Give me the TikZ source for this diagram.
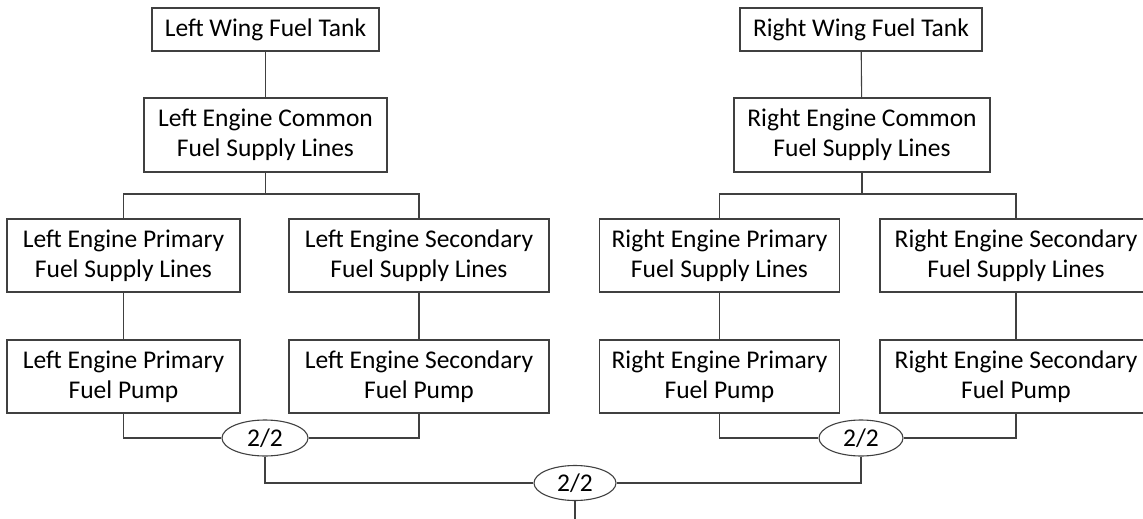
\documentclass[tikz,border=0pt]{standalone}
\usepackage{fontspec}
\setmainfont{Carlito}
\usetikzlibrary{shapes.geometric}
\begin{document}
\begin{tikzpicture}[x=1pt,y=-1pt,
  every node/.style={font=\fontsize{25.5}{30}\selectfont, text=black},
  box/.style={draw=black!75, line width=1.1pt, rectangle, inner sep=0pt, align=center},
  gate/.style={draw=black!75, line width=1.1pt, ellipse, inner sep=0pt},
  link/.style={draw=black!75, line width=1.1pt}]
\useasboundingbox (0,0) rectangle (1143,519);
% left side
\node[box, minimum width=227pt, minimum height=43pt] (LT) at (265.5,29.5) {Left Wing Fuel Tank};
\node[box, minimum width=243pt, minimum height=74pt] (LC) at (265.5,135) {Left Engine Common\\Fuel Supply Lines};
\node[box, minimum width=233pt, minimum height=73pt] (LPS) at (123.5,255.5) {Left Engine Primary\\Fuel Supply Lines};
\node[box, minimum width=260pt, minimum height=73pt] (LSS) at (419,255.5) {Left Engine Secondary\\Fuel Supply Lines};
\node[box, minimum width=233pt, minimum height=73pt] (LPP) at (123.5,376.5) {Left Engine Primary\\Fuel Pump};
\node[box, minimum width=260pt, minimum height=73pt] (LSP) at (419,376.5) {Left Engine Secondary\\Fuel Pump};
% right side
\node[box, minimum width=242pt, minimum height=43pt] (RT) at (861,29.5) {Right Wing Fuel Tank};
\node[box, minimum width=256pt, minimum height=74pt] (RC) at (862,135) {Right Engine Common\\Fuel Supply Lines};
\node[box, minimum width=240pt, minimum height=73pt] (RPS) at (719.5,255.5) {Right Engine Primary\\Fuel Supply Lines};
\node[box, minimum width=272pt, minimum height=73pt] (RSS) at (1016,255.5) {Right Engine Secondary\\Fuel Supply Lines};
\node[box, minimum width=240pt, minimum height=73pt] (RPP) at (719.5,376.5) {Right Engine Primary\\Fuel Pump};
\node[box, minimum width=272pt, minimum height=73pt] (RSP) at (1016,376.5) {Right Engine Secondary\\Fuel Pump};
% gates
\node[gate, minimum width=86pt, minimum height=36pt] (E1) at (265,438) {2/2};
\node[gate, minimum width=84pt, minimum height=36pt] (E2) at (861,438) {2/2};
\node[gate, minimum width=82pt, minimum height=35pt] (E3) at (575,483) {2/2};
\coordinate (LB) at (265.5,194);
\coordinate (RB) at (862,194);
\coordinate (OUT) at (575,519);
% connectors
\draw[link] (LT) -- (LC);
\draw[link] (LC.south) -- (LB);
\draw[link] (LPS.north) |- (LB) -| (LSS.north);
\draw[link] (LPS) -- (LPP);
\draw[link] (LSS) -- (LSP);
\draw[link] (RT) -- (RC);
\draw[link] (RC.south) -- (RB);
\draw[link] (RPS.north) |- (RB) -| (RSS.north);
\draw[link] (RPS) -- (RPP);
\draw[link] (RSS) -- (RSP);
\draw[link] (LPP.south) |- (E1.west);
\draw[link] (LSP.south) |- (E1.east);
\draw[link] (RPP.south) |- (E2.west);
\draw[link] (RSP.south) |- (E2.east);
\draw[link] (E1.south) |- (E3.west);
\draw[link] (E2.south) |- (E3.east);
\draw[link] (E3.south) -- (OUT);
\end{tikzpicture}
\end{document}
